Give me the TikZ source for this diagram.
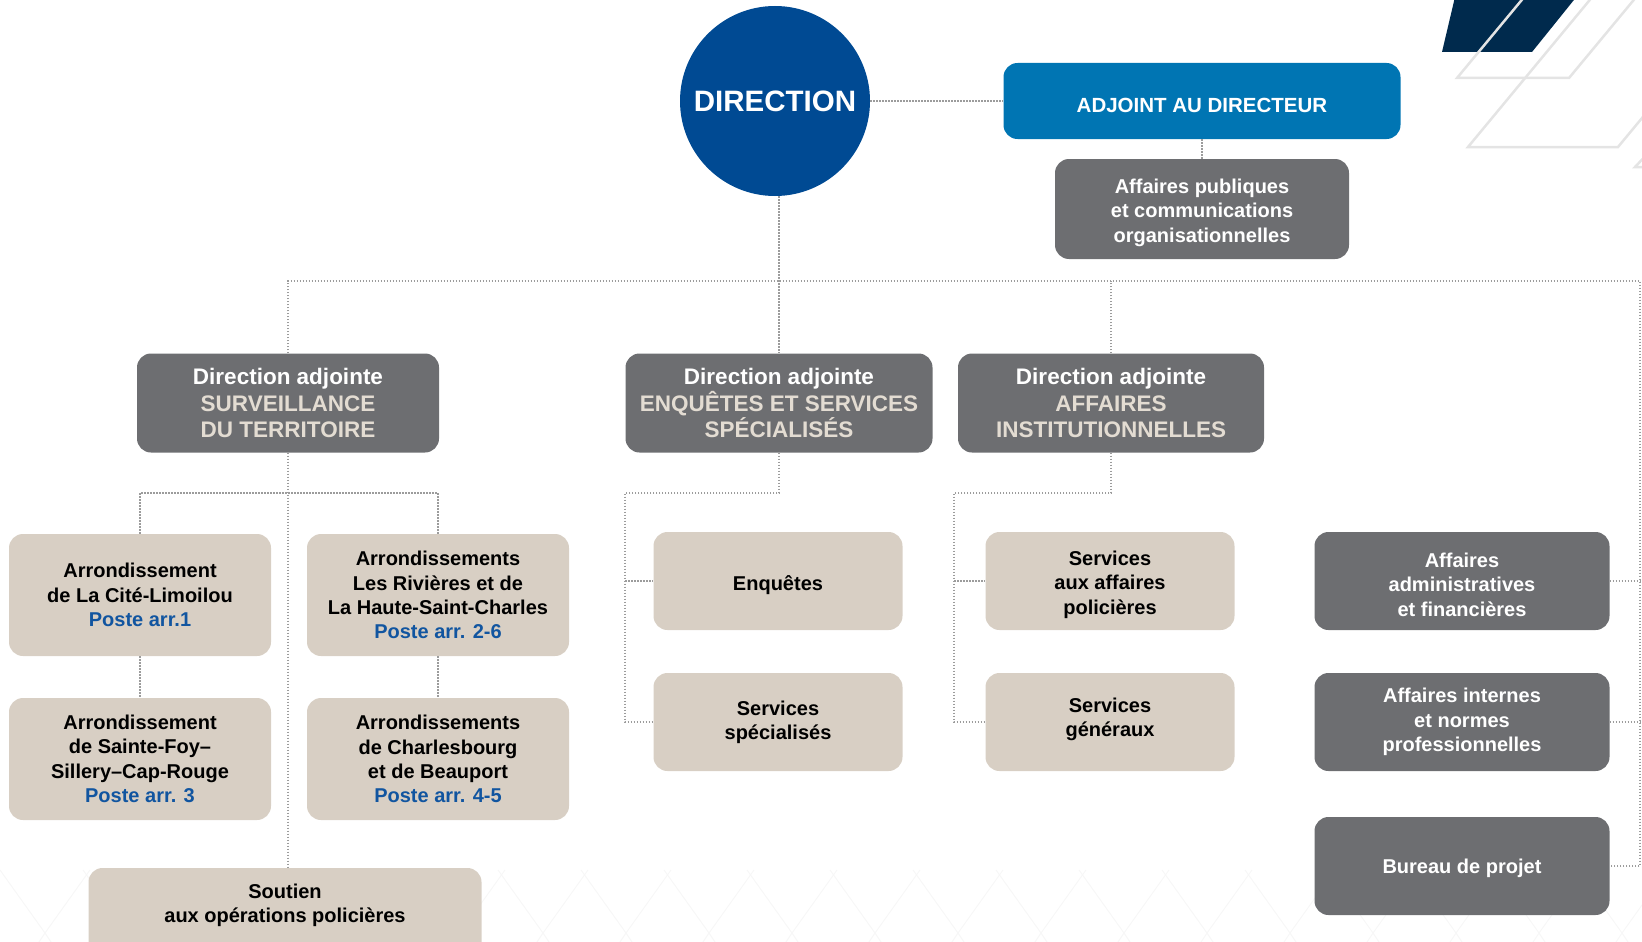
\documentclass[tikz,border=0pt]{standalone}
\usepackage{fontspec}
\setmainfont{Liberation Sans}
\definecolor{navy}{HTML}{004A93}
\definecolor{deepnavy}{HTML}{002A4D}
\definecolor{adjblue}{HTML}{0075B3}
\definecolor{boxgray}{HTML}{6D6E71}
\definecolor{beige}{HTML}{D8CFC4}
\definecolor{cream}{HTML}{E3DCD2}
\definecolor{postblue}{HTML}{1155A0}
\definecolor{linegray}{HTML}{9C9C9C}
\definecolor{decogray}{HTML}{E4E4E4}
\begin{document}
\begin{tikzpicture}[x=1pt, y=-1pt,
  link/.style={draw=linegray, line width=1.5pt, dash pattern=on 1.5pt off 1.5pt},
  headbox/.style={fill=boxgray, rounded corners=14pt, text=white, align=center,
    inner sep=0pt, minimum height=99pt, font=\bfseries\fontsize{22.5}{26.5}\selectfont},
  graybox/.style={fill=boxgray, rounded corners=14pt, text=white, align=center,
    inner sep=0pt, minimum width=295pt, minimum height=98pt, font=\bfseries\fontsize{20}{24.3}\selectfont},
  beigebox/.style={fill=beige, rounded corners=14pt, text=black, align=center,
    inner sep=0pt, font=\bfseries\fontsize{20}{24.3}\selectfont},
  arrbox/.style={beigebox, minimum width=262pt, minimum height=122pt},
  servbox/.style={beigebox, minimum width=249pt, minimum height=98pt},
  drop/.style={text height=70.5pt},
  deco/.style={draw=decogray, line width=2.5pt}]
  \useasboundingbox (0,0) rectangle (1642,942);
  \clip (0,0) rectangle (1642,942);
  % corner decoration
  \fill[deepnavy] (1442,52) -- (1532,52) -- (1590,-20) -- (1459,-20) -- cycle;
  \draw[deco] (1530,-10) -- (1457,78) -- (1569,78) -- (1642,-10);
  \draw[deco] (1598,-10) -- (1468,147) -- (1618,147) -- (1748,-10);
  \draw[deco] (1670,130) -- (1635,167) -- (1660,167);
  \foreach \x in {0,83,...,1660}
    \draw[draw=black!3, line width=1pt] (\x,870) -- ++(45,63) -- ++(-8,12)
      (\x+90,870) -- ++(-45,63) -- ++(8,12);

  \node[circle, fill=navy, minimum size=190pt, inner sep=0pt, text=white,
    font=\bfseries\fontsize{29.5}{34}\selectfont] (dir) at (775,101) {DIRECTION};
  \node[fill=adjblue, rounded corners=14pt, text=white, minimum width=397pt,
    minimum height=76pt, text height=22.5pt, font=\bfseries\fontsize{20.5}{24}\selectfont] (adj) at (1202,101)
    {ADJOINT AU DIRECTEUR};
  \node[graybox, drop, minimum width=294pt, minimum height=100pt] (pub) at (1202,209)
    {Affaires publiques\\ et communications\\ organisationnelles};

  \node[headbox, minimum width=302pt] (surv) at (288,403)
    {Direction adjointe\\ \textcolor{cream}{SURVEILLANCE}\\ \textcolor{cream}{DU TERRITOIRE}};
  \node[headbox, minimum width=307pt] (enq) at (779,403)
    {Direction adjointe\\ \textcolor{cream}{ENQUÊTES ET SERVICES}\\ \textcolor{cream}{SPÉCIALISÉS}};
  \node[headbox, minimum width=306pt] (inst) at (1111,403)
    {Direction adjointe\\ \textcolor{cream}{AFFAIRES}\\ \textcolor{cream}{INSTITUTIONNELLES}};

  \node[arrbox] (cite) at (140,595)
    {Arrondissement\\ de La Cité-Limoilou\\ \textcolor{postblue}{Poste arr.1}};
  \node[arrbox] (riv) at (438,595)
    {Arrondissements\\ Les Rivières et de\\ La Haute-Saint-Charles\\ \textcolor{postblue}{Poste arr. 2-6}};
  \node[arrbox] (foy) at (140,759)
    {Arrondissement\\ de Sainte-Foy--\\ Sillery--Cap-Rouge\\ \textcolor{postblue}{Poste arr. 3}};
  \node[arrbox] (charl) at (438,759)
    {Arrondissements\\ de Charlesbourg\\ et de Beauport\\ \textcolor{postblue}{Poste arr. 4-5}};
  \node[beigebox, minimum width=393pt, minimum height=100pt, text depth=30pt] (sout) at (285,918)
    {Soutien\\ aux opérations policières};

  \node[servbox, text height=24pt] (enqt) at (778,581) {Enquêtes};
  \node[servbox] (spec) at (778,722) {Services\\ spécialisés};
  \node[servbox, drop] (pol) at (1110,581) {Services\\ aux affaires\\ policières};
  \node[servbox, text depth=10pt] (gen) at (1110,722) {Services\\ généraux};

  \node[graybox, drop] (adm) at (1462,581) {Affaires\\ administratives\\ et financières};
  \node[graybox] (int) at (1462,722) {Affaires internes\\ et normes\\ professionnelles};
  \node[graybox, text height=20pt] (bur) at (1462,866) {Bureau de projet};

  \coordinate (tr) at (1640,281);
  \coordinate (jl) at (289,493);
  \coordinate (jm) at (625,493);
  \coordinate (ji) at (954,493);

  \draw[link] (dir) -- (adj);
  \draw[link] (adj) -- (pub);
  \draw[link] (enq.north |- dir.south) -- (enq.north);
  \draw[link] (surv.north) |- (tr) -- (tr |- bur.east) -- (bur.east);
  \draw[link] (inst.north) -- (inst.north |- tr);
  \draw[link] (adm.east) -- (adm.east -| tr);
  \draw[link] (int.east) -- (int.east -| tr);
  \draw[link] (surv.south) -- (surv.south |- sout.north);
  \draw[link] (cite.north) |- (jl) -| (riv.north);
  \draw[link] (cite) -- (foy);
  \draw[link] (riv) -- (charl);
  \draw[link] (enq.south) |- (jm) |- (spec.west);
  \draw[link] (jm |- enqt.west) -- (enqt.west);
  \draw[link] (inst.south) |- (ji) |- (gen.west);
  \draw[link] (ji |- pol.west) -- (pol.west);
\end{tikzpicture}
\end{document}
